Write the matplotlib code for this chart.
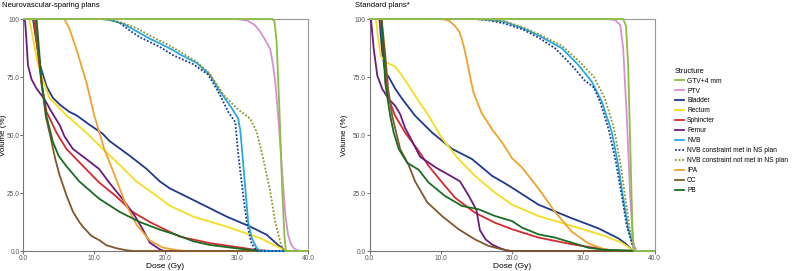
import matplotlib
matplotlib.use("Agg")
import matplotlib.pyplot as plt
from matplotlib.lines import Line2D

plt.rcParams['font.family'] = ['Liberation Sans', 'DejaVu Sans']

# DVH curves, (dose Gy, volume %)
# neurovascular-sparing plans
ns_gtv = [(0, 100), (35.0, 100), (35.3, 99), (35.6, 90), (36.0, 60), (36.4, 25), (36.7, 6), (36.9, 0), (40, 0)]
ns_ptv = [(0, 100), (30.0, 100), (31.5, 99.3), (32.5, 97.5), (33.3, 94.5), (34.0, 91), (34.7, 87), (35.1, 80),
          (35.4, 73), (35.8, 59), (36.3, 37), (36.8, 16), (37.2, 7), (37.6, 3), (38.0, 1.2), (38.5, 0.3), (39, 0), (40, 0)]
ns_bladder = [(0, 100), (1.4, 100), (1.8, 92), (2.4, 80), (2.8, 76), (3.3, 71), (4.2, 66), (5.2, 63), (6.5, 60),
              (7.5, 58.5), (9.3, 54.5), (11.2, 50.5), (12.1, 47.5), (15, 41), (17.3, 35.5), (19.2, 30), (20.6, 27),
              (23.9, 22), (28.6, 14.8), (31.9, 10.5), (34.2, 7), (35.8, 2.6), (36.9, 0), (40, 0)]
ns_rectum = [(0, 100), (0.9, 100), (1.5, 90), (2.0, 82), (2.6, 75.5), (3.7, 66), (6.1, 58.5), (8.9, 51), (11.2, 44),
             (13.6, 37), (15.9, 30), (18.2, 25), (20.6, 19.5), (23.9, 14.8), (28.6, 10.5), (33.3, 5.5), (36.1, 1.3),
             (37, 0), (40, 0)]
ns_sphincter = [(0, 100), (1.5, 100), (2.0, 88), (2.6, 72), (3.3, 60), (4.7, 51), (6.1, 44), (8.4, 36.7), (10.7, 29.5),
                (13.1, 23.5), (15.4, 16.8), (17.8, 12.5), (20.1, 9), (22, 6.2), (26.2, 3.4), (30.9, 1.3), (33, 0.3),
                (35, 0), (40, 0)]
ns_femur = [(0, 100), (0.3, 99), (0.5, 90), (0.7, 80), (1.2, 74), (1.9, 70), (3.0, 65.5), (4.0, 60), (5.2, 54),
            (5.8, 49.5), (7.0, 44), (8.9, 39.6), (10.7, 35.3), (12.1, 29.5), (14.0, 22.3), (15.7, 15.1), (16.8, 9.4),
            (17.8, 3.6), (19.2, 0.7), (19.8, 0), (40, 0)]
ns_nvb = [(0, 100), (11, 100), (12.2, 99.5), (14, 98), (15.5, 95.5), (17.8, 91.5), (19.2, 89.5), (21.1, 86.5),
          (22, 84.8), (24.4, 81), (26.2, 76), (27.6, 69), (29.3, 61.6), (30.2, 57), (30.5, 52), (30.7, 45),
          (31.2, 27), (31.6, 12.6), (32.1, 5.6), (32.8, 1.3), (33.3, 0), (40, 0)]
ns_nvb_met = [(0, 100), (12, 100), (13.5, 98.5), (15, 95), (16.5, 92), (19.2, 88), (21, 84.5), (23.9, 80.5),
              (26, 76), (27.6, 67.5), (28.8, 60), (29.8, 55.5), (30.2, 42), (30.9, 24), (31.4, 12.6), (32, 4),
              (32.5, 1.2), (33, 0), (40, 0)]
ns_nvb_not = [(0, 100), (11, 100), (12.5, 99.5), (14, 98.3), (16, 96), (18, 92.5), (20, 89.5), (22, 86),
              (24.4, 81.5), (26.2, 76.5), (28.1, 67.5), (30, 61.5), (31.9, 57), (32.8, 51.4), (33.7, 40),
              (34.7, 25.6), (35.4, 12.6), (36.1, 4), (36.6, 0), (40, 0)]
ns_ipa = [(0, 100), (5.8, 100), (6.5, 96), (7.5, 87), (8.9, 72.7), (10.0, 58.5), (11.4, 44), (12.9, 32.4),
          (14.3, 21), (15.9, 11.5), (17.8, 4.5), (19.6, 1.5), (21.5, 0.4), (23, 0), (40, 0)]
ns_cc = [(0, 100), (1.7, 100), (2.2, 85), (2.7, 70), (3.2, 58), (3.8, 50), (4.5, 40), (5.1, 33), (6.1, 24), (7.0, 17),
         (7.9, 12.5), (8.4, 10.5), (9.6, 6.5), (10.8, 4.5), (11.7, 2.5), (13.1, 1.2), (14.5, 0.3), (15.5, 0), (40, 0)]
ns_pb = [(0, 100), (1.9, 100), (2.3, 85), (2.6, 73), (3.3, 58), (4.2, 47), (5.0, 41), (6.1, 36.5), (7.9, 30),
         (10.7, 22.5), (13.6, 16.8), (16.4, 12.5), (19.2, 9.2), (21.6, 6.9), (23.9, 4.2), (26.2, 2.6), (30.9, 0.8),
         (33, 0.2), (35, 0), (40, 0)]

# standard plans
st_gtv = [(0, 100), (35.6, 100), (36.0, 97), (36.3, 80), (36.6, 45), (36.9, 10), (37.1, 0), (40, 0)]
st_ptv = [(0, 100), (33.5, 100), (34.5, 99.5), (35.2, 97.4), (35.6, 87.5), (36.1, 58.6), (36.6, 22.8), (37.0, 4),
          (37.3, 0.5), (37.6, 0), (40, 0)]
st_bladder = [(0, 100), (1.4, 100), (1.8, 85), (2.2, 77), (2.7, 75), (3.6, 70), (4.6, 65.5), (6.4, 58.3), (8.8, 51),
              (11.6, 44), (14.4, 39.6), (17.2, 32.4), (19.0, 29.2), (20.0, 27.3), (23.7, 20), (28.4, 14.1),
              (32.1, 9.8), (34.9, 5.5), (35.9, 3.3), (37, 0), (40, 0)]
st_rectum = [(0, 100), (0.9, 100), (1.2, 92), (1.6, 84), (2.2, 81.5), (3.6, 79.5), (4.6, 75.5), (6.4, 67), (8.3, 58.3),
             (10.2, 48.5), (12.5, 39.6), (14.8, 32.4), (17.6, 25.2), (20.0, 20), (23.7, 15.1), (28.4, 10.8),
             (33, 6.5), (35.4, 3.6), (36.8, 0.7), (37.3, 0), (40, 0)]
st_sphincter = [(0, 100), (1.6, 100), (2.0, 85), (2.4, 72), (2.7, 65.5), (3.6, 58.3), (5.0, 51), (6.7, 44),
                (8.3, 36.7), (10.2, 29.5), (12.0, 23), (14.8, 16.5), (17.6, 12.2), (20, 9.4), (23.7, 5.8),
                (28.4, 2.9), (33, 0.7), (35, 0), (40, 0)]
st_femur = [(0, 100), (0.2, 100), (0.6, 87), (1.1, 75.5), (1.8, 69.8), (2.7, 65.5), (3.6, 62.6), (4.3, 59), (5.0, 53),
            (5.7, 49), (7.1, 40.6), (9.4, 35.8), (11.6, 32), (12.7, 30), (13.9, 24), (15.0, 17.7), (15.5, 9),
            (16.3, 5), (17.3, 2.6), (18.5, 1), (19.5, 0), (40, 0)]
st_nvb = [(0, 100), (15, 100), (17, 99.5), (19, 98.8), (21.5, 96), (23.7, 93), (27, 87.4), (29.3, 80.2), (31.2, 73),
          (32.6, 64.4), (34, 51.4), (34.9, 37), (35.6, 22.8), (36.3, 9.9), (37, 2.6), (37.4, 0), (40, 0)]
st_nvb_met = [(0, 100), (15, 100), (17, 99.3), (19, 98), (21.5, 95.5), (23.7, 92), (26, 87.5), (28.4, 80),
              (30.2, 73.5), (31.5, 70.5), (32.4, 64), (33.6, 52), (34.6, 38), (35.4, 24), (36.1, 11), (36.9, 2.5),
              (37.3, 0), (40, 0)]
st_nvb_not = [(0, 100), (15, 100), (17, 99.6), (19, 99), (21.5, 96.5), (23.7, 93.5), (27, 88.5), (29.5, 81.5),
              (31.5, 75), (33, 66), (34.3, 53), (35.2, 38), (35.9, 23), (36.5, 10), (37.1, 2.5), (37.5, 0), (40, 0)]
st_ipa = [(0, 100), (10.2, 100), (11.2, 99.2), (12.0, 97), (12.6, 94.5), (13.0, 91), (13.4, 86), (13.8, 80),
          (14.2, 74), (14.6, 68.3), (15.7, 59.7), (17.2, 52.5), (18.6, 46.8), (19.5, 42.5), (20.0, 40), (21.4, 36),
          (23.7, 27), (26.0, 17), (28.4, 8.3), (30.7, 3.3), (33, 0.7), (34.5, 0), (40, 0)]
st_cc = [(0, 100), (1.7, 100), (2.2, 85), (2.6, 70), (3.2, 58), (4.3, 44), (5.5, 37), (6.4, 30), (8.1, 21),
         (10.2, 15), (12.5, 9.4), (14.8, 5), (16.7, 2.2), (18.6, 0.7), (20, 0), (40, 0)]
st_pb = [(0, 100), (1.7, 100), (2.0, 85), (2.2, 72.7), (2.9, 58.3), (3.4, 51), (4.1, 44), (5.3, 38), (6.9, 35),
         (8.3, 29.5), (10.6, 23.7), (13.0, 19.4), (15.3, 18), (17.6, 15.1), (20, 12.9), (21.4, 10.1), (23.7, 7.2),
         (26, 5.8), (28.4, 3.6), (30.7, 1.4), (33, 0.5), (36, 0.3), (37.5, 0), (40, 0)]

structures = ["GTV+4 mm", "PTV", "Bladder", "Rectum", "Sphincter", "Femur", "NVB",
              "NVB constraint met in NS plan", "NVB constraint not met in NS plan", "IPA", "CC", "PB"]
colors = ["#8cbf3f", "#d98ed6", "#1f3a8c", "#f5dc1e", "#d42a2e", "#6a1b7d", "#27a9e1",
          "#1f3a8c", "#8a962a", "#f0a22b", "#80582c", "#1b6b24"]
styles = ["-", "-", "-", "-", "-", "-", "-", (0, (1, 1)), (0, (1, 1)), "-", "-", "-"]

ns_curves = [ns_gtv, ns_ptv, ns_bladder, ns_rectum, ns_sphincter, ns_femur, ns_nvb,
             ns_nvb_met, ns_nvb_not, ns_ipa, ns_cc, ns_pb]
st_curves = [st_gtv, st_ptv, st_bladder, st_rectum, st_sphincter, st_femur, st_nvb,
             st_nvb_met, st_nvb_not, st_ipa, st_cc, st_pb]

# draw order so the target lines sit on top like the original
order = [2, 3, 4, 5, 9, 10, 11, 6, 7, 8, 1, 0]

fig = plt.figure(figsize=(7.93, 2.71), dpi=100)
ax1 = fig.add_axes([23 / 793, 20 / 271, 285 / 793, 232 / 271])
ax2 = fig.add_axes([369.5 / 793, 20 / 271, 285 / 793, 232 / 271])

tick_col = "#555555"
panels = [(ax1, ns_curves, "Neurovascular-sparing plans", 2), (ax2, st_curves, "Standard plans*", 355)]
for ax, curves, title, title_x in panels:
    for i in order:
        xs = [p[0] for p in curves[i]]
        ys = [p[1] for p in curves[i]]
        ax.plot(xs, ys, color=colors[i], ls=styles[i], lw=1.3, solid_capstyle="butt", clip_on=False, zorder=3)
    ax.set_xlim(0, 40)
    ax.set_ylim(0, 100)
    ax.set_xticks([0, 10, 20, 30, 40])
    ax.set_xticklabels(["0.0", "10.0", "20.0", "30.0", "40.0"])
    ax.set_yticks([0, 25, 50, 75, 100])
    ax.set_yticklabels(["0.0", "25.0", "50.0", "75.0", "100"])
    ax.tick_params(labelsize=4.8, colors=tick_col, length=2, width=0.6, pad=0.6)
    for s in ax.spines.values():
        s.set_color("#999999")
        s.set_linewidth(0.8)
    ax.spines["left"].set_color("#777777")
    ax.spines["bottom"].set_color("#777777")
    ax.set_xlabel("Dose (Gy)", fontsize=6, labelpad=1)
    ax.set_ylabel("Volume (%)", fontsize=5.8)
    fig.text(title_x / 793, 1 - 2 / 271, title, fontsize=5.5, ha="left", va="top")

# y label positions (pixels left of each spine)
ax1.yaxis.set_label_coords(-16.5 / 285, 0.5)
ax2.yaxis.set_label_coords(-22 / 285, 0.5)

handles = [Line2D([], [], color=c, ls=s, lw=1.3) for c, s in zip(colors, styles)]
leg = fig.legend(handles, structures, loc="upper left", bbox_to_anchor=(672 / 793, 1 - 65 / 271),
                 frameon=False, fontsize=4.8, title="Structure", title_fontsize=5.3,
                 handlelength=1.4, handletextpad=0.45, labelspacing=0.44, borderaxespad=0)
leg._legend_box.align = "left"

fig.savefig("out.png", dpi=100)
